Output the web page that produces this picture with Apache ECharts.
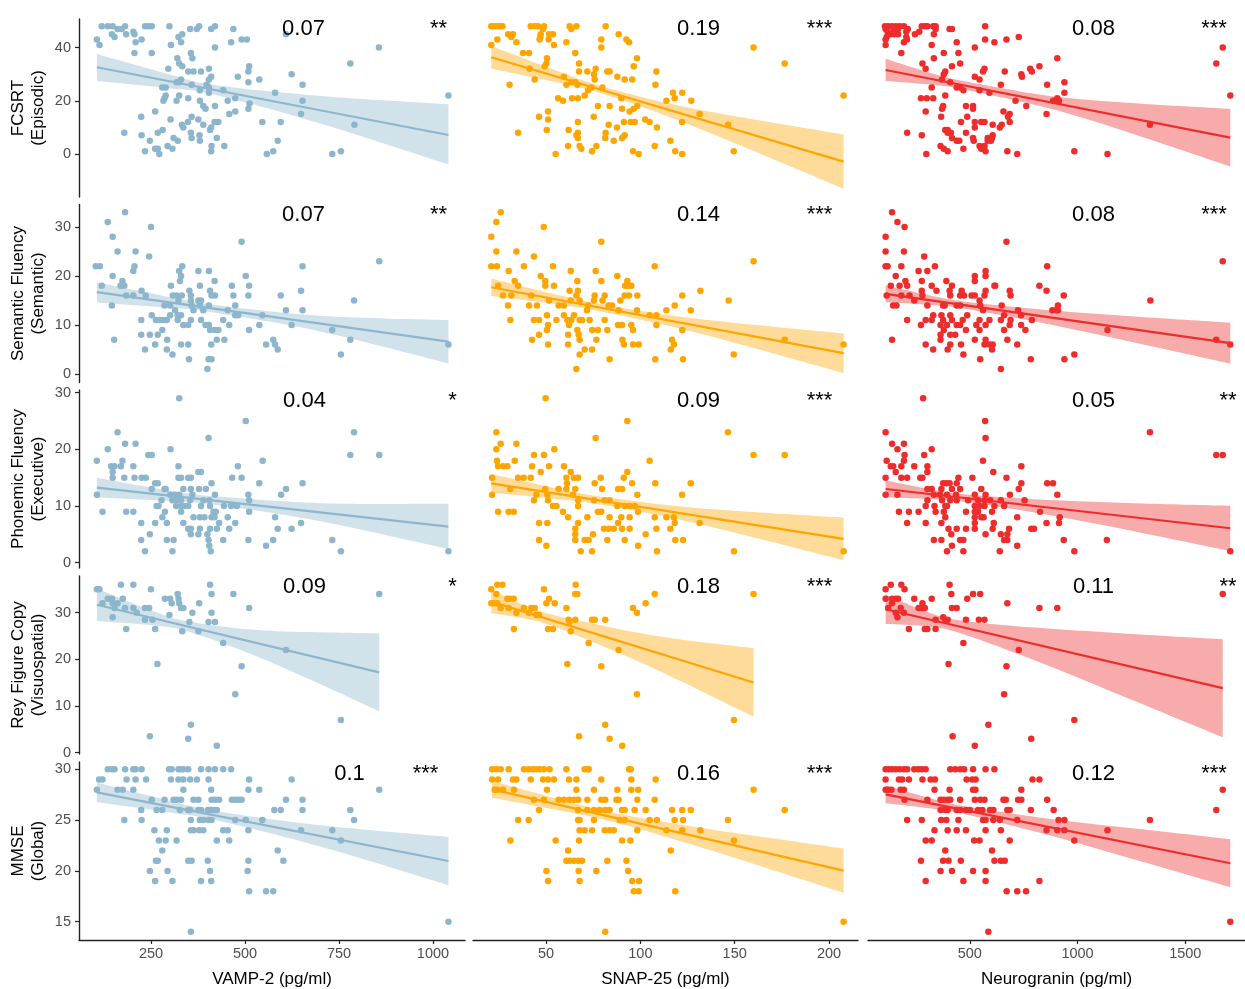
<!DOCTYPE html>
<html>
<head>
<meta charset="utf-8">
<script src="https://cdn.jsdelivr.net/npm/echarts/dist/echarts.min.js"></script>
<style>
  html, body { margin: 0; padding: 0; background: #ffffff; }
  #chart { width: 1245px; height: 989px; }
</style>
</head>
<body>
<div id="chart"></div>
<script>
// ---------- labels ----------
const biomarkerNames = ['VAMP-2 (pg/ml)', 'SNAP-25 (pg/ml)', 'Neurogranin (pg/ml)'];
const testNames = ['FCSRT\n(Episodic)', 'Semantic Fluency\n(Semantic)', 'Phonemic Fluency\n(Executive)', 'Rey Figure Copy\n(Visuospatial)', 'MMSE\n(Global)'];
const rSquared = [
  ['0.07', '0.19', '0.08'],
  ['0.07', '0.14', '0.08'],
  ['0.04', '0.09', '0.05'],
  ['0.09', '0.18', '0.11'],
  ['0.1', '0.16', '0.12']
];
const significance = [
  ['**', '***', '***'],
  ['**', '***', '***'],
  ['*', '***', '**'],
  ['*', '***', '**'],
  ['***', '***', '***']
];
const xTickValues = [[250, 500, 750, 1000], [50, 100, 150, 200], [500, 1000, 1500]];
const yTickValues = [[0, 20, 40], [0, 10, 20, 30], [0, 10, 20, 30], [0, 10, 20, 30], [15, 20, 25, 30]];
const markerColors = ['#8DB6CD', '#FFA500', '#EE2C2C'];

// ---------- FCSRT ----------
const fcsrtVamp = [[119,48],[135,48],[148,48],[161,47],[172,47],[181,48],[184,45],[146,45],[153,44],[203,46],[206,45],[234,48],[243,48],[252,48],[299,48],[354,47],[372,47],[378,48],[410,47],[420,48],[469,47],[106,43],[113,41],[209,42],[225,43],[206,38],[252,38],[303,41],[323,44],[333,45],[330,42],[463,42],[491,43],[505,43],[420,40],[609,45],[856,40],[780,34],[356,38],[360,36],[320,36],[325,34],[333,33],[296,32],[349,31],[363,31],[383,31],[404,32],[330,28],[325,27],[318,27],[358,26],[280,25],[289,25],[380,24],[404,25],[410,29],[404,28],[398,26],[442,24],[404,23],[481,29],[511,33],[509,31],[509,27],[538,28],[624,30],[653,26],[580,23],[653,20],[649,15],[474,21],[454,20],[512,19],[509,17],[474,16],[458,15],[420,18],[389,18],[395,17],[380,20],[349,21],[325,22],[318,20],[289,22],[286,21],[283,20],[261,16],[224,14],[302,13],[332,11],[336,10],[348,12],[358,14],[376,13],[389,11],[410,10],[419,12],[429,12],[407,9],[546,12],[595,12],[791,11],[179,8],[225,7],[247,5],[268,8],[281,9],[310,6],[321,5],[356,8],[358,6],[380,5],[379,7],[425,6],[445,3],[411,3],[410,1],[234,1],[261,2],[268,2],[272,0],[294,3],[307,2],[558,0],[575,1],[587,5],[732,0],[755,1],[1041,22]];
const fcsrtSnap = [[21,48],[22.4,48],[24.2,48],[25.4,48],[26.9,48],[41.9,48],[44,48],[45.8,48],[49,48],[62.5,48],[66.1,48],[81.6,48],[48.4,47],[63.4,47],[29.9,45],[32.5,45],[47.2,45],[51.6,45],[53.7,45],[88.5,45],[47,44],[31.6,44],[24.2,43],[46.6,43],[51.4,43],[79.3,43],[92.6,43],[34.3,42],[60.8,42],[94,42],[21,41],[54.2,41],[79.3,40],[160,40],[37.8,38],[41,38],[65.5,38],[50.5,36],[98.2,36],[50.2,34],[67.5,34],[176.5,34],[49.3,33],[96.5,33],[41.3,32],[76.3,32],[67.5,31],[71.9,31],[82.5,31],[83.7,31],[108.5,31],[75.4,30],[59.5,29],[87.8,29],[44,28],[75.8,28],[91.7,28],[95.7,28],[63.4,27],[65.5,27],[30.7,26],[60.8,26],[66.6,26],[108,26],[74,25],[79.9,25],[72.3,24],[117.3,23],[122.2,23],[70.5,22],[207.7,22],[56.4,21],[63.8,21],[66.9,21],[89.9,21],[118.2,21],[59,20],[113.8,20],[127,20],[77.5,18],[83.7,18],[98.4,18],[90.3,17],[96.5,17],[51.1,16],[94.3,16],[131.4,15],[46.3,14],[75.3,14],[51.1,13],[102.6,13],[66.9,12],[91.3,12],[94.9,12],[97,12],[104.9,12],[122.1,12],[83.2,11],[146.5,11],[87.6,10],[108.8,10],[50.4,9],[62,9],[35.2,8],[66.9,8],[81.6,8],[66.1,7],[91.7,7],[81.4,6],[90.3,6],[66.9,6],[115.9,5],[85.9,5],[61.7,3],[76.7,3],[107.6,3],[67.8,3],[68.7,2],[74.4,1],[96.1,1],[118.5,1],[149.5,1],[55.1,0],[99.1,0],[122.2,0]];
const fcsrtNrgn = [[106,48],[121,48],[139,48],[156,48],[174,48],[194,48],[277,48],[292,48],[303,48],[330,48],[341,48],[571,48],[109,47],[148,47],[167,47],[212,47],[341,47],[406,47],[417,47],[118,46],[144,46],[205,46],[265,46],[133,45],[152,45],[167,45],[245,45],[333,45],[114,44],[205,44],[727,44],[109,43],[208,43],[571,43],[670,43],[194,42],[439,42],[614,42],[109,41],[323,41],[523,40],[1674,40],[182,38],[379,38],[447,38],[333,36],[906,36],[280,34],[455,34],[1644,34],[417,33],[823,33],[295,32],[568,32],[780,32],[386,31],[561,31],[662,31],[788,31],[379,30],[739,30],[523,29],[742,29],[371,28],[545,28],[409,27],[939,27],[644,26],[859,26],[323,25],[439,25],[455,25],[470,24],[545,24],[591,23],[939,23],[386,22],[1709,22],[273,21],[300,21],[330,21],[906,21],[712,20],[886,20],[914,20],[482,18],[515,18],[762,18],[376,18],[371,17],[515,17],[295,16],[656,16],[685,15],[856,15],[367,14],[488,14],[677,14],[459,12],[523,12],[553,12],[568,12],[685,12],[606,11],[648,11],[1336,11],[523,10],[639,10],[386,9],[397,9],[209,8],[412,8],[482,8],[397,8],[277,7],[606,7],[417,6],[583,6],[603,6],[515,6],[439,5],[451,5],[518,5],[598,5],[583,5],[364,3],[545,3],[568,3],[379,2],[470,2],[553,2],[397,1],[573,1],[674,1],[985,1],[298,0],[720,0],[1139,0]];

// ---------- Semantic fluency ----------
const semVamp = [[181,33],[135,31],[250,30],[148,28],[161,25],[209,25],[245,24],[103,22],[114,22],[206,22],[203,21],[333,22],[148,20],[174,19],[169,18],[179,18],[119,18],[225,17],[236,16],[184,16],[203,16],[146,14],[224,11],[252,12],[263,11],[274,11],[283,11],[292,11],[301,12],[303,18],[330,20],[327,19],[325,21],[308,16],[318,16],[323,15],[332,16],[286,14],[301,14],[314,13],[321,12],[330,12],[321,11],[336,10],[349,10],[356,11],[352,17],[356,16],[356,15],[358,14],[363,13],[376,21],[380,18],[376,15],[383,15],[380,14],[389,13],[404,21],[419,19],[407,17],[411,16],[420,16],[404,14],[395,10],[404,10],[407,9],[419,9],[429,9],[383,11],[465,18],[469,16],[474,14],[474,12],[482,12],[454,13],[442,11],[458,10],[502,20],[511,18],[509,16],[491,27],[546,12],[538,10],[511,9],[595,16],[609,13],[624,10],[649,17],[653,22],[653,13],[857,23],[790,15],[732,9],[780,7],[755,4],[575,7],[580,6],[587,5],[556,6],[152,7],[224,8],[247,8],[268,8],[261,6],[234,5],[280,9],[293,7],[292,5],[307,4],[330,6],[349,6],[351,3],[410,6],[425,7],[445,7],[403,3],[411,3],[400,1],[1041,6]];
const semSnap = [[26,33],[23.7,31],[48.8,30],[21,28],[79.3,27],[23.7,25],[34.3,25],[43.6,24],[160,23],[21,22],[24,22],[38.3,22],[53.7,22],[107.6,22],[30.2,21],[63.1,21],[76.3,21],[47.2,20],[87.8,20],[33.4,19],[49.6,19],[66.6,19],[79.3,19],[93.1,19],[24.6,18],[35.2,18],[49.6,18],[54.2,18],[92,18],[93.5,18],[95.2,18],[62.5,17],[66.9,17],[131.8,17],[27.2,16],[31.6,16],[42.2,16],[66.1,16],[75.8,16],[81.1,16],[91.7,16],[94,16],[98.4,16],[122.2,16],[51.6,15],[63.1,15],[67.8,15],[75.4,15],[79.9,15],[89.4,15],[146.8,15],[29.9,14],[41,14],[45.2,14],[56.7,14],[59.5,14],[72.3,14],[83.2,14],[85,14],[118.2,14],[71.7,13],[88.5,13],[98.2,13],[126.7,13],[113.8,13],[50.5,12],[59.5,12],[64.8,12],[104.9,12],[108.5,12],[31.1,11],[43.6,11],[46.3,11],[55.5,11],[61.3,11],[63.4,11],[67.8,11],[69.1,11],[73.1,11],[81.1,11],[51.1,10],[62.2,10],[88.2,10],[90.3,10],[95.2,10],[108.5,10],[50.5,9],[66.6,9],[74.5,9],[77.5,9],[82.5,9],[96.1,9],[122.2,9],[46.3,8],[61.7,8],[67.3,8],[42.6,7],[67.8,7],[76.7,7],[90.5,7],[116.8,7],[176.5,7],[51.1,6],[61.7,6],[91.3,6],[96.1,6],[99.1,6],[117.8,6],[207.7,6],[70.5,5],[74.4,5],[116.1,5],[67.8,4],[149.5,4],[83.7,3],[107.9,3],[122.6,3],[66.1,1]];
const semNrgn = [[139,33],[164,31],[197,30],[109,28],[670,27],[109,25],[194,25],[288,24],[1674,23],[109,22],[118,22],[182,22],[338,22],[859,22],[262,21],[303,21],[573,21],[156,20],[523,20],[573,20],[201,19],[277,19],[391,19],[523,19],[133,18],[174,18],[209,18],[323,18],[417,18],[614,18],[618,18],[823,18],[277,17],[345,17],[406,17],[462,17],[573,17],[685,17],[856,17],[114,16],[182,16],[220,16],[280,16],[409,16],[455,16],[473,16],[508,16],[523,16],[568,16],[689,16],[936,16],[242,15],[1338,15],[545,15],[144,14],[159,14],[303,14],[376,14],[383,14],[439,14],[455,14],[548,14],[648,14],[909,14],[561,13],[724,13],[883,13],[909,13],[901,13],[330,12],[368,12],[409,12],[488,12],[659,12],[738,12],[209,11],[295,11],[323,11],[376,11],[417,11],[467,11],[545,11],[591,11],[644,11],[689,11],[788,11],[273,10],[364,10],[394,10],[439,10],[455,10],[530,10],[573,10],[685,10],[738,10],[379,9],[482,9],[545,9],[659,9],[758,9],[1139,9],[364,8],[409,8],[432,8],[139,7],[364,7],[523,7],[573,7],[674,7],[1644,7],[295,6],[409,6],[459,6],[568,6],[591,6],[606,6],[720,6],[1709,6],[330,5],[397,5],[603,5],[470,4],[985,4],[548,3],[783,3],[939,3],[644,1]];

// ---------- Phonemic fluency ----------
const phonVamp = [[325,29],[502,25],[161,23],[181,21],[209,21],[135,20],[302,20],[403,22],[790,23],[780,19],[857,19],[106,18],[174,18],[547,18],[243,19],[252,19],[144,17],[153,17],[170,17],[203,17],[148,16],[323,17],[481,17],[148,15],[179,15],[206,15],[225,15],[236,15],[323,15],[330,15],[349,15],[356,15],[376,16],[383,16],[466,15],[491,15],[261,14],[268,14],[411,14],[538,14],[653,14],[252,13],[286,13],[289,13],[336,13],[356,13],[378,13],[396,13],[609,13],[106,12],[278,11],[301,12],[307,11],[314,12],[325,12],[317,11],[330,11],[354,11],[360,12],[389,11],[405,11],[420,12],[509,12],[511,11],[596,12],[265,10],[270,10],[317,10],[330,10],[341,10],[349,10],[383,10],[407,10],[444,10],[463,10],[478,10],[121,9],[184,9],[203,9],[287,9],[330,9],[416,9],[422,9],[511,9],[280,8],[363,8],[380,8],[392,8],[411,8],[419,8],[454,8],[580,8],[224,7],[261,7],[292,7],[336,7],[431,7],[474,7],[649,7],[349,6],[356,6],[380,6],[407,6],[425,6],[458,6],[587,6],[624,6],[247,5],[356,5],[376,5],[400,5],[224,4],[292,4],[310,4],[403,4],[442,4],[509,4],[575,4],[732,4],[405,3],[556,3],[234,2],[307,2],[409,2],[755,2],[1041,2]];
const phonSnap = [[49.8,29],[93.1,25],[23.7,23],[146.4,23],[76.3,22],[26,21],[34.3,21],[23.7,20],[54.4,20],[43.6,19],[48.9,19],[160,19],[176.5,19],[24,18],[33.4,18],[104.9,18],[24.6,17],[27.2,17],[29.5,17],[42.6,17],[51.6,17],[59.5,17],[47.2,16],[63.1,16],[93.1,16],[21.4,15],[35.2,15],[38.2,15],[41.9,15],[60.8,15],[64.8,15],[67,15],[79,15],[91.2,15],[61.1,14],[95.6,14],[107.9,14],[126.7,14],[75.8,14],[31.1,13],[49.6,13],[56.7,13],[60.8,13],[65.5,13],[79.7,13],[88.2,13],[90.3,13],[21.4,12],[44.9,12],[50.7,12],[64.3,12],[98.4,12],[122.1,12],[43.6,11],[51.1,11],[67,11],[75.4,11],[81.1,11],[83.7,11],[53.7,10],[55.5,10],[67,10],[87.8,10],[91.7,10],[94.3,10],[97,10],[24.6,9],[30.2,9],[32.9,9],[59,9],[77.5,9],[79.3,9],[98.8,9],[61.7,8],[71.9,8],[83.7,8],[89.9,8],[94.3,8],[107.6,8],[113.8,8],[117.7,8],[46.3,7],[50.7,7],[67,7],[88.2,7],[118.2,7],[131.4,7],[65.5,6],[80.7,6],[83.2,6],[85.9,6],[90.3,6],[94.3,6],[108.5,6],[115.9,6],[65.5,5],[74.9,5],[102.8,5],[46.3,4],[65.5,4],[70.5,4],[72.6,4],[82.5,4],[91.7,4],[118.5,4],[122.6,4],[50.2,3],[98.8,3],[68.4,2],[74.4,2],[108.8,2],[149.6,2],[207.7,2]];
const phonNrgn = [[283,29],[571,25],[109,23],[1336,23],[573,22],[139,21],[194,21],[164,20],[323,20],[197,19],[288,19],[1644,19],[1674,19],[114,18],[194,18],[561,18],[133,17],[144,17],[182,17],[242,17],[303,17],[739,17],[156,16],[303,16],[609,16],[109,15],[182,15],[209,15],[270,15],[280,15],[447,15],[512,15],[670,15],[376,14],[391,14],[406,14],[439,14],[739,14],[859,14],[886,14],[303,13],[323,13],[368,13],[417,13],[455,13],[553,13],[727,13],[109,12],[164,12],[333,12],[361,12],[394,12],[436,12],[523,12],[573,12],[686,12],[906,12],[303,11],[371,11],[409,11],[439,11],[492,11],[538,11],[568,11],[594,11],[644,11],[754,11],[295,10],[336,10],[386,10],[394,10],[523,10],[545,10],[568,10],[614,10],[659,10],[171,9],[217,9],[262,9],[341,9],[379,9],[482,9],[523,9],[538,9],[603,9],[826,9],[386,8],[523,8],[553,8],[564,8],[720,8],[917,8],[209,7],[295,7],[368,7],[523,7],[611,7],[856,7],[914,7],[401,6],[439,6],[482,6],[523,6],[606,6],[682,6],[785,6],[798,6],[414,5],[573,5],[644,5],[674,5],[333,4],[368,4],[455,4],[470,4],[659,4],[674,4],[936,4],[1136,4],[417,3],[720,3],[394,2],[470,2],[639,2],[985,2],[1709,2]];

// ---------- Rey figure copy ----------
const reyVamp = [[106,35],[113,35],[170,36],[203,36],[250,35],[407,36],[411,34],[469,34],[857,34],[135,33],[146,33],[175,33],[121,32],[148,32],[161,32],[287,33],[301,33],[321,34],[323,33],[305,32],[325,32],[378,32],[153,31],[181,31],[203,31],[234,31],[245,31],[330,31],[336,31],[511,31],[212,30],[360,30],[411,30],[299,29.5],[148,29],[234,28.5],[254,28.5],[352,28],[403,28],[420,28],[184,26.5],[261,26.5],[333,26],[376,26],[442,23.5],[609,22],[267,19],[491,18.5],[474,12.5],[755,7],[356,6],[247,3.5],[349,3],[425,1.5]];
const reySnap = [[24.2,36],[26.9,36],[65.7,36],[21,35],[48.9,35],[23.7,34],[65.5,34],[66.6,34],[160,34],[107.6,34],[29.5,33],[31.1,33],[32.9,33],[51.6,33],[21,32],[22.4,32],[24.2,32],[50.2,32],[54.6,32],[102.8,32],[26,31],[30.2,31],[38.3,31],[42.2,31],[44,31],[60.8,31],[96.1,31],[34.3,30],[41,30],[98.2,30],[44.9,29.5],[46.3,29.5],[62,28.5],[65.5,28.5],[74.4,28.5],[75.8,28.5],[81.4,28.5],[62.5,28],[33,26.5],[51.1,26.5],[53.7,26.5],[63.1,26],[72.6,23.5],[88.5,22],[61.3,19],[79.3,18.5],[98.2,12.5],[149.6,7],[81.4,6],[67.5,3.5],[83.7,3],[90.4,1.5]];
const reyNrgn = [[133,36],[182,36],[406,36],[109,35],[197,35],[414,34],[515,34],[548,34],[1674,34],[109,33],[139,33],[156,33],[167,33],[242,33],[323,33],[488,33],[674,32],[139,32],[280,32],[121,31],[179,31],[262,31],[280,31],[291,31],[417,31],[439,31],[823,31],[906,31],[156,30],[194,30],[164,29],[376,29],[341,28.5],[386,28.5],[397,28.5],[482,28.5],[542,28.5],[568,28.5],[217,26.5],[291,26.5],[303,26.5],[341,26.5],[470,23.5],[727,22],[401,19],[670,18.5],[659,12.5],[985,7],[586,6],[420,3.5],[785,3],[523,1.5]];

// ---------- MMSE ----------
const mmseVamp = [[135,30],[146,30],[153,30],[181,30],[203,30],[209,30],[225,30],[298,30],[305,30],[323,30],[330,30],[336,30],[349,30],[383,30],[403,30],[420,30],[442,30],[463,30],[112,29],[121,29],[185,29],[209,29],[237,29],[303,29],[323,29],[336,29],[354,29],[372,29],[403,29],[511,29],[624,29],[106,28],[161,28],[175,28],[203,28],[336,28],[410,28],[509,28],[538,28],[857,28],[252,27],[286,27],[310,27],[318,27],[330,27],[363,27],[376,27],[411,27],[420,27],[431,27],[465,27],[474,27],[482,27],[491,27],[609,27],[653,27],[224,26],[265,26],[280,26],[327,26],[349,26],[354,26],[376,26],[383,26],[401,26],[410,26],[419,26],[425,26],[578,26],[595,26],[653,26],[780,26],[179,25],[225,25],[356,25],[380,25],[389,25],[403,25],[411,25],[474,25],[502,25],[546,25],[790,25],[259,24],[292,24],[356,24],[363,24],[378,24],[389,24],[442,24],[454,24],[509,24],[649,24],[732,24],[271,23],[289,23],[318,23],[425,23],[458,23],[755,23],[280,22],[587,22],[263,21],[268,21],[349,21],[358,21],[401,21],[509,21],[602,21],[247,20],[294,20],[407,20],[507,20],[261,19],[307,19],[383,19],[410,19],[511,18],[556,18],[575,18],[1041,15],[356,14]];
const mmseSnap = [[21.4,30],[23.7,30],[26,30],[30.2,30],[38.3,30],[40.8,30],[43.1,30],[44.9,30],[46.6,30],[48.9,30],[51.9,30],[60.8,30],[70.5,30],[72.3,30],[72.6,30],[94,30],[94.9,30],[21.4,29],[24.6,29],[32.5,29],[34.3,29],[41.9,29],[48.4,29],[51.1,29],[54.2,29],[62.2,29],[66.1,29],[79.3,29],[95.2,29],[108.1,29],[22.8,28],[24.2,28],[27.2,28],[33,28],[50.5,28],[66.1,28],[75.4,28],[87.8,28],[95.2,28],[98.8,28],[160,28],[43.6,27],[48.9,27],[56.7,27],[59.5,27],[62.5,27],[64.8,27],[67,27],[71.9,27],[79.3,27],[81.4,27],[87.3,27],[88.5,27],[98.4,27],[107.6,27],[46.3,26],[67,26],[71.9,26],[75.4,26],[78.4,26],[81.4,26],[83.7,26],[90.3,26],[91.7,26],[97,26],[102.8,26],[116.8,26],[122.2,26],[126.7,26],[176.5,26],[35.2,25],[40.8,25],[67,25],[67.8,25],[75.4,25],[89,25],[91.7,25],[104.9,25],[108.8,25],[118.2,25],[122.6,25],[146.4,25],[67.8,24],[70.5,24],[74.4,24],[81.1,24],[83.7,24],[85.9,24],[98.4,24],[113.8,24],[122.2,24],[131.8,24],[31.1,23],[55.1,23],[67.5,23],[90.3,23],[94.7,23],[149.6,23],[61.7,22],[116.1,22],[60.8,21],[62.5,21],[64.8,21],[67,21],[69.1,21],[82.5,21],[92.6,21],[50.2,20],[67.3,20],[76.7,20],[93.5,20],[51.1,19],[67.8,19],[95.7,19],[99.3,19],[96.5,18],[99.1,18],[118.5,18],[207.7,15],[81.4,14]];
const mmseNrgn = [[109,30],[124,30],[139,30],[156,30],[174,30],[194,30],[209,30],[242,30],[261,30],[277,30],[295,30],[409,30],[432,30],[455,30],[473,30],[515,30],[573,30],[614,30],[109,29],[171,29],[186,29],[217,29],[280,29],[318,29],[338,29],[485,29],[511,29],[527,29],[791,29],[823,29],[109,28],[121,28],[136,28],[179,28],[194,28],[336,28],[406,28],[515,28],[526,28],[739,28],[1674,28],[197,27],[303,27],[364,27],[379,27],[397,27],[409,27],[455,27],[523,27],[548,27],[568,27],[656,27],[667,27],[724,27],[739,27],[859,27],[364,26],[386,26],[397,26],[439,26],[455,26],[482,26],[500,26],[538,26],[558,26],[594,26],[609,26],[674,26],[685,26],[783,26],[889,26],[1644,26],[209,25],[277,25],[367,25],[391,25],[447,25],[561,25],[573,25],[609,25],[639,25],[720,25],[912,25],[939,25],[1336,25],[336,24],[397,24],[439,24],[482,24],[573,24],[644,24],[856,24],[906,24],[939,24],[1139,24],[295,23],[323,23],[520,23],[545,23],[685,23],[985,23],[386,22],[603,22],[273,21],[376,21],[401,21],[458,21],[614,21],[644,21],[662,21],[364,20],[417,20],[515,20],[573,20],[295,19],[470,19],[573,19],[823,19],[671,18],[720,18],[761,18],[1709,15],[586,14]];

// ---------- linear fits: end points ----------
const fitFcsrt = [[[106,32.6],[1041,7.15]], [[21,36.35],[207.7,-2.87]], [[109,31.59],[1709,6.15]]];
const fitSem   = [[[106,16.7],[1041,6.6]],  [[21,17.71],[207.7,4.25]],  [[109,16.35],[1709,6.29]]];
const fitPhon  = [[[106,13.25],[1041,6.37]], [[21,14.0],[207.7,4.19]],  [[109,13.0],[1709,6.07]]];
const fitRey   = [[[106,31.7],[857,17.2]],  [[21,32.38],[160,15.03]],  [[109,30.74],[1674,13.82]]];
const fitMmse  = [[[106,27.73],[1041,20.98]], [[21.4,28.03],[207.7,20.03]], [[109,27.54],[1709,20.75]]];

// ---------- 95% confidence bands: [x, lower, upper] ----------
const ciFcsrt = [
  [[106,27.4,37.6],[300,24.7,29.9],[420,22.3,25.9],[700,11.5,21.8],[1041,-3.9,18.7]],
  [[21,32.0,40.6],[60,26.2,30.2],[85,21.5,24.3],[130,9.9,16.8],[207.7,-13.0,7.3]],
  [[109,27.4,35.8],[350,25.8,29.7],[500,23.8,27.0],[900,16.5,21.5],[1300,6.4,18.9],[1709,-4.7,17.0]]
];
const ciSem = [
  [[106,14.6,18.75],[300,13.5,15.7],[420,12.5,14.1],[700,8.7,11.9],[1041,2.2,11.0]],
  [[21,15.9,19.5],[60,14.0,15.8],[85,12.3,13.9],[130,8.4,11.3],[207.7,0.2,8.3]],
  [[109,14.65,18.05],[350,14.0,15.7],[500,13.15,14.65],[900,9.85,12.9],[1300,6.05,11.65],[1709,2.1,10.5]]
];
const ciPhon = [
  [[106,11.5,15.0],[300,10.9,12.7],[420,10.2,11.7],[700,7.3,10.5],[1041,2.4,10.4]],
  [[21,12.35,15.65],[60,11.1,12.8],[85,9.9,11.4],[130,6.9,9.65],[207.7,0.45,7.95]],
  [[109,11.5,14.5],[350,11.15,12.75],[500,10.6,12.0],[900,8.2,11.0],[1300,5.25,10.45],[1709,2.05,10.05]]
];
const ciRey = [
  [[106,28.2,35.2],[250,27.3,30.5],[350,25.9,28.1],[550,20.0,26.2],[857,8.9,25.6]],
  [[21,29.9,34.9],[45,28.2,30.6],[70,24.5,28.1],[110,17.5,24.9],[160,7.7,22.4]],
  [[109,27.6,33.9],[300,27.1,30.2],[450,25.7,28.4],[800,19.8,26.8],[1200,12.3,25.6],[1674,3.3,24.3]]
];
const ciMmse = [
  [[106,26.75,28.7],[300,25.75,26.9],[420,25.0,25.9],[700,22.4,24.5],[1041,18.6,23.35]],
  [[21.4,27.2,28.85],[60,25.85,26.9],[85,24.85,25.75],[130,22.45,24.3],[207.7,17.85,22.2]],
  [[109,26.67,28.41],[350,26.07,26.97],[500,25.48,26.28],[900,23.33,25.03],[1300,20.89,24.09],[1709,18.39,23.11]]
];

// ---------- panel grid layout ----------
const FONT = '"Liberation Sans", Arial, Helvetica, sans-serif';
const colLeft = [79, 473, 868];
const colWidth = [386, 385, 385];
const rowTop = [19, 204.5, 390, 576, 762];
const rowHeight = 178;
const xExtent = [[58.5, 1085.1], [11.31, 215.34], [27.3, 1777.3]];
const yExtent = [[-16.17, 50.75], [-1.73, 34.59], [-0.94, 30.47], [-0.28, 37.86], [13.2, 30.72]];
const textRowY = [29.3, 214.8, 400.7, 587.3, 773.8];
const rLabelX = [[303.5, 698.5, 1093.5], [303.5, 698.5, 1093.5], [304.5, 698.5, 1093.5], [304.5, 698.5, 1093.5], [349.5, 698.5, 1093.5]];
const starX = [[438.5, 819.5, 1214], [438.5, 819.5, 1214], [452.5, 819.5, 1228], [452.5, 819.5, 1228], [425.5, 819.5, 1214]];
const bandFills = ['rgba(141,182,205,0.4)', 'rgba(255,165,0,0.4)', 'rgba(238,44,44,0.4)'];

const points = [
  [fcsrtVamp, fcsrtSnap, fcsrtNrgn],
  [semVamp, semSnap, semNrgn],
  [phonVamp, phonSnap, phonNrgn],
  [reyVamp, reySnap, reyNrgn],
  [mmseVamp, mmseSnap, mmseNrgn]
];
const fits = [fitFcsrt, fitSem, fitPhon, fitRey, fitMmse];
const bands = [ciFcsrt, ciSem, ciPhon, ciRey, ciMmse];

// smooth cubic path through pixel points (Catmull-Rom converted to Bezier)
function curveThrough(p) {
  let s = '';
  for (let k = 0; k < p.length - 1; k++) {
    const p0 = p[k - 1] || p[k], p1 = p[k], p2 = p[k + 1], p3 = p[k + 2] || p[k + 1];
    const c1 = [p1[0] + (p2[0] - p0[0]) / 6, p1[1] + (p2[1] - p0[1]) / 6];
    const c2 = [p2[0] - (p3[0] - p1[0]) / 6, p2[1] - (p3[1] - p1[1]) / 6];
    s += ' C' + c1[0] + ' ' + c1[1] + ' ' + c2[0] + ' ' + c2[1] + ' ' + p2[0] + ' ' + p2[1];
  }
  return s;
}
function bandRenderer(band, fill) {
  return function (params, api) {
    const upper = band.map(b => api.coord([b[0], b[2]]));
    const lower = band.map(b => api.coord([b[0], b[1]])).reverse();
    const d = 'M' + upper[0][0] + ' ' + upper[0][1] + curveThrough(upper) +
              ' L' + lower[0][0] + ' ' + lower[0][1] + curveThrough(lower) + ' Z';
    return { type: 'path', shape: { pathData: d }, style: { fill: fill, stroke: null } };
  };
}

const grid = [], xAxis = [], yAxis = [], series = [], graphic = [];
const axisColor = '#222222';
const plainNumber = v => String(v);

for (let r = 0; r < 5; r++) {
  for (let c = 0; c < 3; c++) {
    const i = r * 3 + c;
    const color = markerColors[c];
    grid.push({ left: colLeft[c], top: rowTop[r], width: colWidth[c], height: rowHeight });
    const bottomRow = r === 4;
    xAxis.push({
      type: 'value', gridIndex: i, min: xExtent[c][0], max: xExtent[c][1],
      show: bottomRow,
      axisLine: { show: true, onZero: false, lineStyle: { color: axisColor, width: 1.4 } },
      axisTick: { show: true, length: 4, customValues: xTickValues[c], lineStyle: { color: axisColor, width: 1.2 } },
      axisLabel: { customValues: xTickValues[c], formatter: plainNumber, color: '#4D4D4D', fontSize: 14.5, fontFamily: FONT, margin: 6 },
      splitLine: { show: false },
      name: bottomRow ? biomarkerNames[c] : '',
      nameLocation: 'middle', nameGap: 31,
      nameTextStyle: { color: '#000000', fontSize: 17, fontFamily: FONT }
    });
    const leftCol = c === 0;
    yAxis.push({
      type: 'value', gridIndex: i, min: yExtent[r][0], max: yExtent[r][1],
      show: leftCol,
      axisLine: { show: true, onZero: false, lineStyle: { color: axisColor, width: 1.4 } },
      axisTick: { show: true, length: 4, customValues: yTickValues[r], lineStyle: { color: axisColor, width: 1.2 } },
      axisLabel: { customValues: yTickValues[r], formatter: plainNumber, color: '#4D4D4D', fontSize: 14.5, fontFamily: FONT, margin: 8 },
      splitLine: { show: false }
    });

    // observations
    series.push({
      type: 'scatter', xAxisIndex: i, yAxisIndex: i, data: points[r][c],
      symbolSize: 6.5, itemStyle: { color: color, opacity: 1 }, silent: true, clip: false, z: 2
    });
    // confidence band around the fit
    const band = bands[r][c];
    series.push({
      type: 'custom', xAxisIndex: i, yAxisIndex: i, coordinateSystem: 'cartesian2d',
      data: [[band[0][0], band[0][1]]],
      renderItem: bandRenderer(band, bandFills[c]), silent: true, clip: false, z: 3
    });
    // fitted regression line
    series.push({
      type: 'line', xAxisIndex: i, yAxisIndex: i, data: fits[r][c],
      symbol: 'none', lineStyle: { color: color, width: 2.2 }, silent: true, z: 4
    });

    // R² and significance annotations
    graphic.push({
      type: 'text', x: rLabelX[r][c], y: textRowY[r], silent: true, z: 10,
      style: { text: rSquared[r][c], fill: '#000000', font: '22px ' + FONT, align: 'center', verticalAlign: 'middle' }
    });
    graphic.push({
      type: 'text', x: starX[r][c], y: textRowY[r], silent: true, z: 10,
      style: { text: significance[r][c], fill: '#000000', font: '22px ' + FONT, align: 'center', verticalAlign: 'middle' }
    });
  }
  // row titles (cognitive domain)
  graphic.push({
    type: 'text', x: 28, y: rowTop[r] + rowHeight / 2, rotation: Math.PI / 2, silent: true,
    style: { text: testNames[r], fill: '#000000', font: '17px ' + FONT, lineHeight: 20, align: 'center', verticalAlign: 'middle' }
  });
}

const chart = echarts.init(document.getElementById('chart'), null, { renderer: 'canvas' });
chart.setOption({
  animation: false,
  backgroundColor: '#ffffff',
  grid: grid,
  xAxis: xAxis,
  yAxis: yAxis,
  series: series,
  graphic: graphic
});
</script>
</body>
</html>
